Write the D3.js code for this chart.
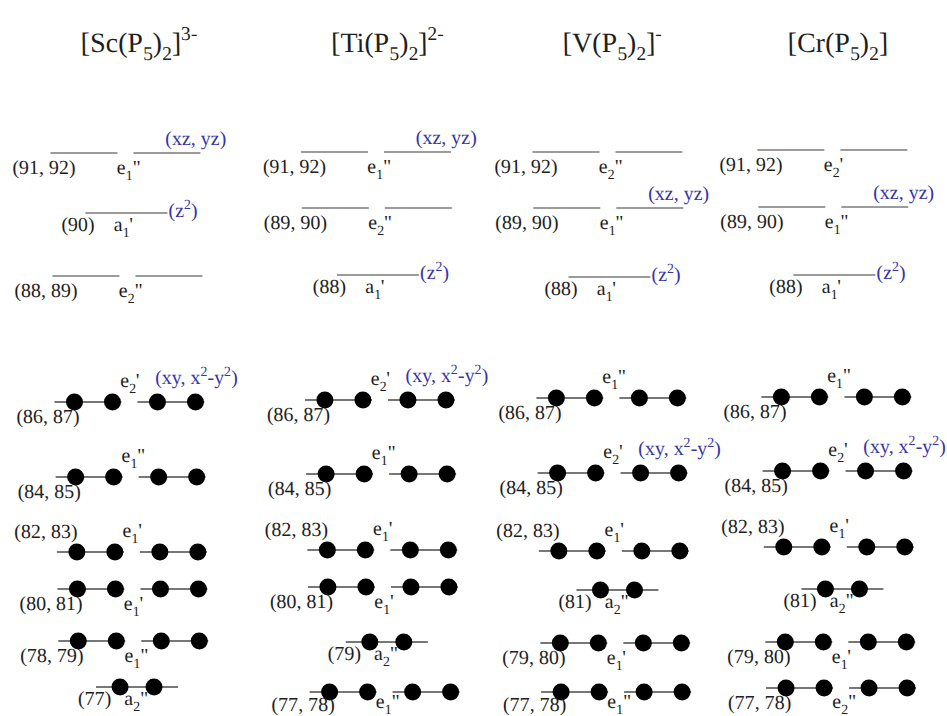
<!DOCTYPE html>
<html>
<head>
<meta charset="utf-8" />
<title>d-level diagrams of the [M(P5)2] sandwich complexes</title>
<script src="https://cdnjs.cloudflare.com/ajax/libs/d3/7.8.5/d3.min.js"></script>
<style>
body { margin: 0; background: #fff; }
svg text { fill: #1e1e1e; }
</style>
</head>
<body>
<svg id="chart" width="947" height="716" font-family="'Liberation Serif', 'Times New Roman', 'DejaVu Serif', serif"></svg>
<script>
// complexes, left to right
const metals = ["Sc", "Ti", "V", "Cr"];
const charges = ["3-", "2-", "-", ""];

// levels of each complex, top to bottom
// e = level height, mo = MO numbers, sym = [letter, subscript, primes]
const scLevels = [
	{ mo: "91, 92", sym: ["e", "1", "\""], e: 563, occ: false, orb: "xz" },
	{ mo: "90", sym: ["a", "1", "'"], e: 503, occ: false, orb: "z2" },
	{ mo: "88, 89", sym: ["e", "2", "\""], e: 440, occ: false },
	{ mo: "86, 87", sym: ["e", "2", "'"], e: 314, occ: true, orb: "xy" },
	{ mo: "84, 85", sym: ["e", "1", "\""], e: 239, occ: true },
	{ mo: "82, 83", sym: ["e", "1", "'"], e: 164, occ: true },
	{ mo: "80, 81", sym: ["e", "1", "'"], e: 127, occ: true },
	{ mo: "78, 79", sym: ["e", "1", "\""], e: 75, occ: true },
	{ mo: "77", sym: ["a", "2", "\""], e: 29, occ: true }
];
const tiLevels = [
	{ mo: "91, 92", sym: ["e", "1", "\""], e: 564, occ: false, orb: "xz" },
	{ mo: "89, 90", sym: ["e", "2", "\""], e: 508, occ: false },
	{ mo: "88", sym: ["a", "1", "'"], e: 441, occ: false, orb: "z2" },
	{ mo: "86, 87", sym: ["e", "2", "'"], e: 316, occ: true, orb: "xy" },
	{ mo: "84, 85", sym: ["e", "1", "\""], e: 242, occ: true },
	{ mo: "82, 83", sym: ["e", "1", "'"], e: 166, occ: true },
	{ mo: "80, 81", sym: ["e", "1", "'"], e: 129, occ: true },
	{ mo: "79", sym: ["a", "2", "\""], e: 74, occ: true },
	{ mo: "77, 78", sym: ["e", "1", "\""], e: 24, occ: true }
];
const vLevels = [
	{ mo: "91, 92", sym: ["e", "2", "\""], e: 564, occ: false },
	{ mo: "89, 90", sym: ["e", "1", "\""], e: 508, occ: false, orb: "xz" },
	{ mo: "88", sym: ["a", "1", "'"], e: 439, occ: false, orb: "z2" },
	{ mo: "86, 87", sym: ["e", "1", "\""], e: 318, occ: true },
	{ mo: "84, 85", sym: ["e", "2", "'"], e: 243, occ: true, orb: "xy" },
	{ mo: "82, 83", sym: ["e", "1", "'"], e: 165, occ: true },
	{ mo: "81", sym: ["a", "2", "\""], e: 126, occ: true },
	{ mo: "79, 80", sym: ["e", "1", "'"], e: 73, occ: true },
	{ mo: "77, 78", sym: ["e", "1", "\""], e: 24, occ: true }
];
const crLevels = [
	{ mo: "91, 92", sym: ["e", "2", "'"], e: 566, occ: false },
	{ mo: "89, 90", sym: ["e", "1", "\""], e: 509, occ: false, orb: "xz" },
	{ mo: "88", sym: ["a", "1", "'"], e: 441, occ: false, orb: "z2" },
	{ mo: "86, 87", sym: ["e", "1", "\""], e: 319, occ: true },
	{ mo: "84, 85", sym: ["e", "2", "'"], e: 245, occ: true, orb: "xy" },
	{ mo: "82, 83", sym: ["e", "1", "'"], e: 169, occ: true },
	{ mo: "81", sym: ["a", "2", "\""], e: 127, occ: true },
	{ mo: "79, 80", sym: ["e", "1", "'"], e: 74, occ: true },
	{ mo: "77, 78", sym: ["e", "2", "\""], e: 28, occ: true }
];
const levels = [scLevels, tiLevels, vLevels, crLevels];

// d-orbital tags, as text pieces
const orbitalTags = {
	xz: [["(xz, yz)"]],
	z2: [["(z"], ["2", "sup"], [")"]],
	xy: [["(xy, x"], ["2", "sup"], ["-y"], ["2", "sup"], [")"]]
};

const svg = d3.select("#chart");
const fs = 20;

const x = d3.scaleOrdinal().domain(metals).range([123, 373.5, 605, 830]);
const y = d3.scaleLinear().domain([0, 716]).range([716, 0]);

// the scanned figure leans a little to the right
const g = svg.append("g").attr("transform", "skewX(0.92)");

// write text made of normal / sub / sup pieces
function rich(text, parts, size) {
	let shift = 0;
	parts.forEach(function (p) {
		let kind = p[1] || "";
		let target = kind == "sub" ? size * 0.3 : kind == "sup" ? -size * 0.42 : 0;
		text.append("tspan")
			.attr("dy", target - shift)
			.attr("font-size", kind ? size * 0.7 : size)
			.text(p[0]);
		shift = target;
	});
	return text;
}

metals.forEach(function (m, i) {
	const col = g.append("g").attr("class", "col-" + m);
	const c0 = x(m);

	// title
	let tparts = [["[" + m + "(P"], ["5", "sub"], [")"], ["2", "sub"], ["]"]];
	if (charges[i]) tparts.push([charges[i], "sup"]);
	rich(col.append("text").attr("x", c0 - 43).attr("y", 52), tparts, 28);

	let nOcc = 0;
	levels[i].forEach(function (d) {
		const ly = y(d.e);
		const pair = d.sym[0] == "e";
		// filled single levels sit a bit to the right in the figure
		const c = (!pair && d.occ) ? c0 + 3 : c0;
		const segs = pair ? [[c - 75, c - 8], [c + 8, c + 75]] : [[c - 41, c + 41]];
		const dots = pair ? [c - 55, c - 17, c + 28, c + 66] : [c - 17, c + 17];

		col.selectAll(null).data(segs).enter().append("line")
			.attr("x1", s => s[0]).attr("x2", s => s[1])
			.attr("y1", ly).attr("y2", ly)
			.attr("stroke", d.occ ? "#4a4a4a" : "#7a7a7a")
			.attr("stroke-width", 1.6);

		if (d.occ) {
			col.selectAll(null).data(dots).enter().append("circle")
				.attr("cx", v => v).attr("cy", ly).attr("r", 8.5)
				.attr("fill", "#000");
		}

		// where the labels go
		let symAbove = false, moAbove = false;
		if (d.occ) {
			symAbove = nOcc < 3;
			moAbove = nOcc == 2;
			nOcc++;
		}

		let moX = pair ? (moAbove ? c - 54 : c - 50) : (d.occ ? c - 26 : c - 32);
		let moY = moAbove ? ly - 14 : Math.min(ly + (pair ? 21 : 18), 711);
		col.append("text")
			.attr("x", moX).attr("y", moY)
			.attr("text-anchor", "end")
			.attr("font-size", fs)
			.text("(" + d.mo + ")");

		let symX = pair ? c - 9 : c - 13;
		let symY = symAbove ? ly - 15 : Math.min(ly + (pair ? 21 : 18), 708);
		rich(col.append("text").attr("x", symX).attr("y", symY),
			[[d.sym[0]], [d.sym[1], "sub"], [d.sym[2]]], fs);

		if (d.orb) {
			let ox = d.orb == "xz" ? c + 40 : d.orb == "z2" ? c + 42 : c + 26;
			let oy = d.orb == "xz" ? ly - 8 : d.orb == "z2" ? ly + 4 : ly - 18;
			rich(col.append("text").attr("x", ox).attr("y", oy).style("fill", "#3535a6"),
				orbitalTags[d.orb], fs);
		}
	});
});
</script>
</body>
</html>
